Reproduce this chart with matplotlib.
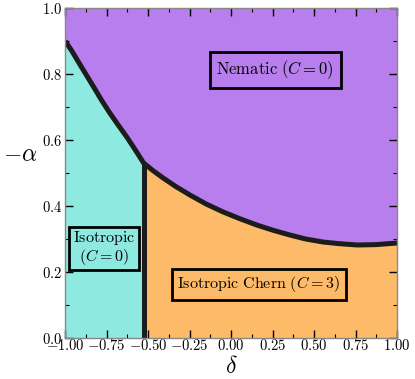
import matplotlib
matplotlib.use("Agg")
import matplotlib.pyplot as plt
import numpy as np

plt.rcParams['font.family'] = ['cmr10', 'DejaVu Serif']
plt.rcParams['mathtext.fontset'] = 'cm'
plt.rcParams['axes.unicode_minus'] = False

# boundary between isotropic (C=0) and nematic
left_delta = [-1.0, -0.96, -0.91, -0.87, -0.83, -0.78, -0.73, -0.68, -0.63, -0.58, -0.527]
left_alpha = [0.900, 0.870, 0.828, 0.795, 0.762, 0.720, 0.681, 0.645, 0.610, 0.572, 0.530]
# boundary between isotropic Chern (C=3) and nematic
right_delta = [-0.527, -0.47, -0.41, -0.33, -0.247, -0.15, -0.048, 0.05, 0.157, 0.25,
               0.355, 0.45, 0.554, 0.65, 0.759, 0.87, 1.0]
right_alpha = [0.530, 0.507, 0.485, 0.458, 0.433, 0.406, 0.382, 0.362, 0.342, 0.327,
               0.312, 0.300, 0.291, 0.286, 0.282, 0.283, 0.288]

xtick_vals = [-1.0, -0.75, -0.5, -0.25, 0.0, 0.25, 0.5, 0.75, 1.0]
xtick_labels = [r'$-1.00$', r'$-0.75$', r'$-0.50$', r'$-0.25$', r'$0.00$', r'$0.25$',
                r'$0.50$', r'$0.75$', r'$1.00$']
ytick_vals = [0.0, 0.2, 0.4, 0.6, 0.8, 1.0]
ytick_labels = [r'$0.0$', r'$0.2$', r'$0.4$', r'$0.6$', r'$0.8$', r'$1.0$']

col_nem = '#b87eed'
col_iso = '#8eeae1'
col_chern = '#fdbb69'
col_line = '#1c1c1c'

fig = plt.figure(figsize=(4.15, 3.79), dpi=100)
ax = fig.add_axes([0.157, 0.108, 0.8, 0.871])

bd = np.array(left_delta + right_delta[1:])
ba = np.array(left_alpha + right_alpha[1:])
ax.fill_between(bd, ba, 1.0, color=col_nem, lw=0)
ax.fill_between(left_delta, 0, left_alpha, color=col_iso, lw=0)
ax.fill_between(right_delta, 0, right_alpha, color=col_chern, lw=0)

ax.plot(bd, ba, color=col_line, lw=3.6, solid_capstyle='butt', solid_joinstyle='round')
ax.plot([right_delta[0], right_delta[0]], [0, right_alpha[0]], color=col_line, lw=3.6,
        solid_capstyle='butt')

ax.text(0.265, 0.813, r'$\mathrm{Nematic}\ (C=0)$', ha='center', va='center', fontsize=12,
        bbox=dict(boxstyle='square,pad=0.4', fc='none', ec='k', lw=2))
ax.text(-0.765, 0.273, r'$\mathrm{Isotropic}$' + '\n' + r'$(C=0)$', ha='center', va='center',
        fontsize=11.5, multialignment='center', linespacing=0.95,
        bbox=dict(boxstyle='square,pad=0.22', fc='none', ec='k', lw=2))
ax.text(0.166, 0.163, r'$\mathrm{Isotropic\ Chern}\ (C=3)$', ha='center', va='center', fontsize=11.5,
        bbox=dict(boxstyle='square,pad=0.35', fc='none', ec='k', lw=2))

ax.set_xlim(-1, 1)
ax.set_ylim(0, 1)
ax.set_xticks(xtick_vals)
ax.set_xticklabels(xtick_labels)
ax.set_yticks(ytick_vals)
ax.set_yticklabels(ytick_labels)
ax.set_xticks(np.arange(-1.0, 1.01, 0.125), minor=True)
ax.set_yticks(np.arange(0.0, 1.01, 0.1), minor=True)
ax.tick_params(which='both', direction='in', top=True, right=True, labelsize=10.5)
ax.tick_params(axis='x', which='major', pad=0)
ax.tick_params(axis='y', which='major', pad=2)
ax.tick_params(which='major', length=6, width=1)
ax.tick_params(which='minor', length=3, width=0.8)
for s in ax.spines.values():
    s.set_color('#888888')
    s.set_linewidth(1)

ax.set_xlabel(r'$\delta$', fontsize=17)
ax.xaxis.set_label_coords(0.5, -0.055)
ax.set_ylabel(r'$-\alpha$', fontsize=17, rotation=0, va='center', ha='center')
ax.yaxis.set_label_coords(-0.136, 0.555)

fig.savefig('out.png', dpi=100)
